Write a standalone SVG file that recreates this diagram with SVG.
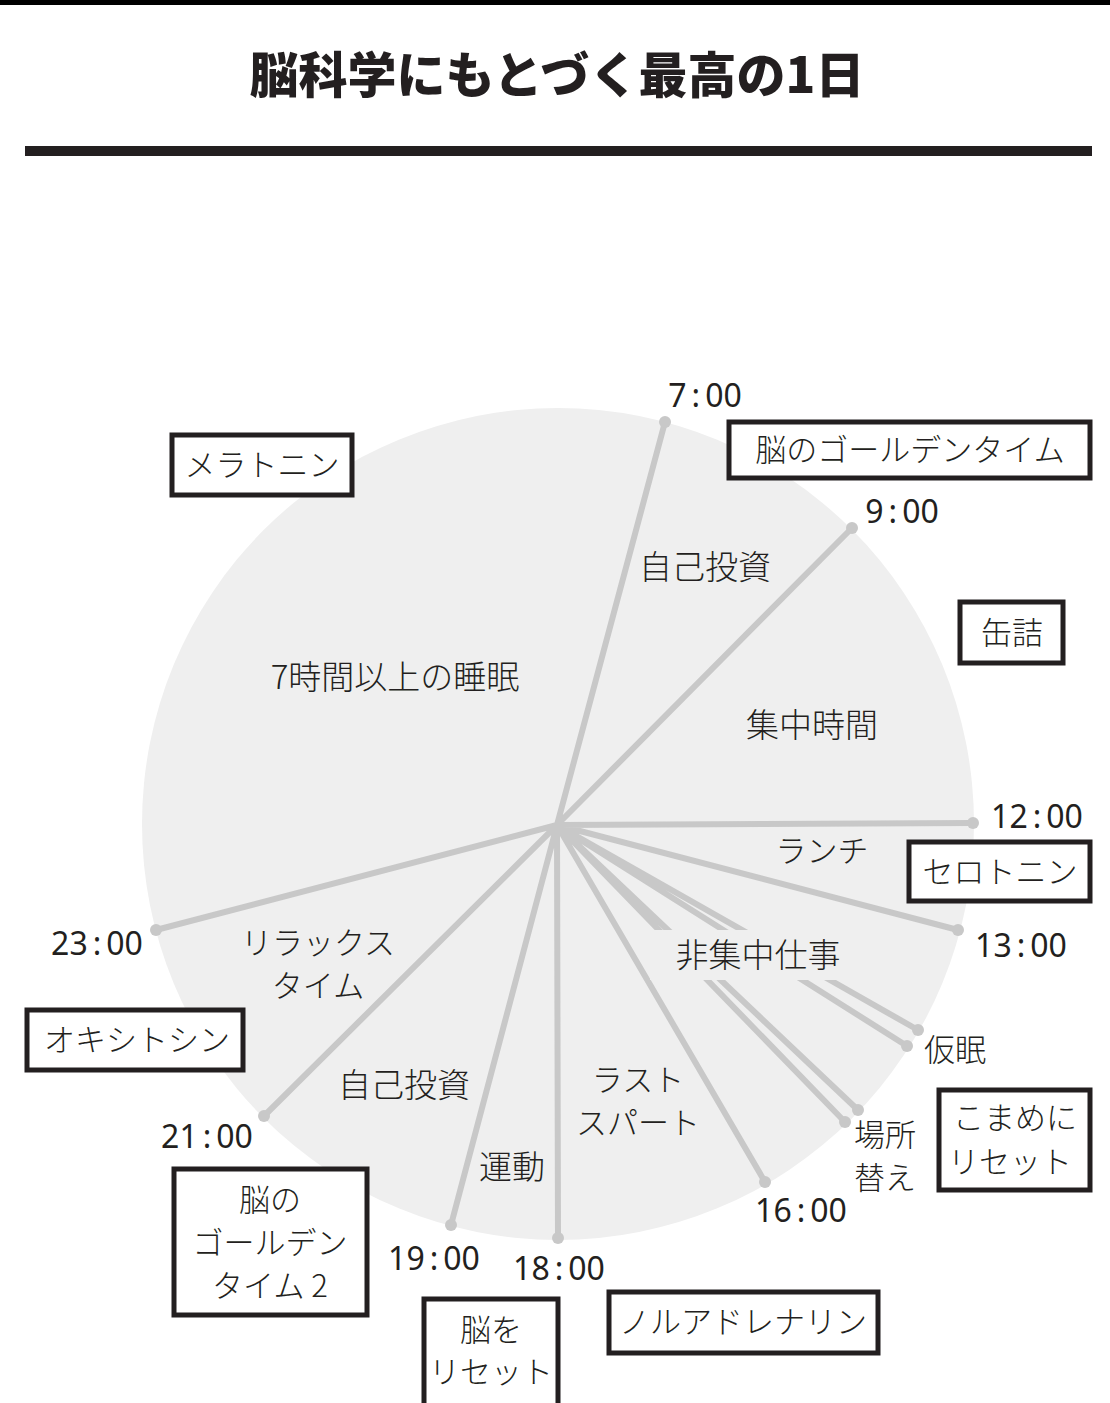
<svg xmlns="http://www.w3.org/2000/svg" width="1110" height="1403" viewBox="0 0 1110 1403">
<style>
.t{font-family:"Noto Sans CJK JP","Noto Sans",sans-serif;fill:#231f20;text-anchor:middle}
.lb{font-size:31px;font-weight:300}
.sg{font-size:33px;font-weight:300}
.tm{font-size:32px;font-family:"Noto Sans","Noto Sans CJK JP",sans-serif}
.bx{fill:#fff;stroke:#231f20;stroke-width:5}
.ln{stroke:#c8c8c8;stroke-width:6;stroke-linecap:round;fill:none}
.dt{fill:#c8c8c8}
</style>
<rect x="0" y="0" width="1110" height="1403" fill="#fff"/>
<rect x="0" y="0" width="1110" height="5" fill="#000"/>
<text class="t" x="557" y="93" font-size="49" font-weight="900">脳科学にもとづく最高の1日</text>
<rect x="25" y="146" width="1067" height="10" fill="#231f20"/>
<circle id="clock" cx="558" cy="824" r="416" fill="#efefef"/>
<g id="connectors">
<path class="ln" d="M557 825L665 422M557 825L852 528M557 825L973 823M557 825L958 930M557 825L918 1030M557 825L907 1046M557 825L858 1110M557 825L845 1122M557 825L765 1182M557 825L558 1238M557 825L451 1225M557 825L264 1116M557 825L156 930"/>
<g class="dt">
<circle cx="665" cy="422" r="6"/><circle cx="852" cy="528" r="6"/><circle cx="973" cy="823" r="6"/><circle cx="958" cy="930" r="6"/><circle cx="918" cy="1030" r="6"/><circle cx="907" cy="1046" r="6"/><circle cx="858" cy="1110" r="6"/><circle cx="845" cy="1122" r="6"/><circle cx="765" cy="1182" r="6"/><circle cx="558" cy="1238" r="6"/><circle cx="451" cy="1225" r="6"/><circle cx="264" cy="1116" r="6"/><circle cx="156" cy="930" r="6"/>
</g>
</g>
<g id="times">
<text class="t tm" x="705" y="407">7<tspan dx="5">:</tspan><tspan dx="5">00</tspan></text>
<text class="t tm" x="902" y="523">9<tspan dx="5">:</tspan><tspan dx="5">00</tspan></text>
<text class="t tm" x="1037" y="828">12<tspan dx="5">:</tspan><tspan dx="5">00</tspan></text>
<text class="t tm" x="1021" y="957">13<tspan dx="5">:</tspan><tspan dx="5">00</tspan></text>
<text class="t tm" x="97" y="955">23<tspan dx="5">:</tspan><tspan dx="5">00</tspan></text>
<text class="t tm" x="207" y="1148">21<tspan dx="5">:</tspan><tspan dx="5">00</tspan></text>
<text class="t tm" x="434" y="1270">19<tspan dx="5">:</tspan><tspan dx="5">00</tspan></text>
<text class="t tm" x="559" y="1280">18<tspan dx="5">:</tspan><tspan dx="5">00</tspan></text>
<text class="t tm" x="801" y="1222">16<tspan dx="5">:</tspan><tspan dx="5">00</tspan></text>
</g>
<g id="segments">
<text class="t sg" x="705" y="579">自己投資</text>
<text class="t sg" x="395" y="689">7時間以上の睡眠</text>
<text class="t sg" x="812" y="737">集中時間</text>
<text class="t lb" x="822" y="862" font-size="29">ランチ</text>
<rect x="650" y="930" width="198" height="50" fill="#efefef"/>
<text class="t sg" x="758" y="967">非集中仕事</text>
<text class="t lb" font-size="29"><tspan x="318" y="954">リラックス</tspan><tspan x="318" y="997">タイム</tspan></text>
<text class="t sg" x="404" y="1097">自己投資</text>
<text class="t lb" font-size="29"><tspan x="638" y="1091">ラスト</tspan><tspan x="638" y="1134">スパート</tspan></text>
<text class="t sg" x="512" y="1179" font-size="31">運動</text>
<text class="t lb" x="955" y="1061">仮眠</text>
<text class="t lb" font-size="30"><tspan x="885" y="1146">場所</tspan><tspan x="885" y="1189">替え</tspan></text>
</g>
<g id="melatonin"><rect class="bx" x="172" y="435" width="180" height="60"/><text class="t lb" x="262" y="476">メラトニン</text></g>
<g id="golden"><rect class="bx" x="729" y="422" width="361" height="56"/><text class="t lb" x="910" y="461" font-size="33">脳のゴールデンタイム</text></g>
<g id="kanzume"><rect class="bx" x="960" y="602" width="103" height="61"/><text class="t lb" x="1012" y="644">缶詰</text></g>
<g id="serotonin"><rect class="bx" x="909" y="842" width="181" height="59"/><text class="t lb" x="1000" y="883">セロトニン</text></g>
<g id="oxytocin"><rect class="bx" x="27" y="1010" width="216" height="60"/><text class="t lb" x="137" y="1051">オキシトシン</text></g>
<g id="golden2"><rect class="bx" x="174" y="1169" width="193" height="146"/><text class="t lb"><tspan x="270" y="1211">脳の</tspan><tspan x="270" y="1254">ゴールデン</tspan><tspan x="270" y="1297">タイム 2</tspan></text></g>
<g id="reset"><rect class="bx" x="424" y="1299" width="134" height="110"/><text class="t lb"><tspan x="491" y="1341">脳を</tspan><tspan x="491" y="1383">リセット</tspan></text></g>
<g id="noradrenaline"><rect class="bx" x="609" y="1292" width="269" height="61"/><text class="t lb" x="743" y="1333">ノルアドレナリン</text></g>
<g id="komame"><rect class="bx" x="939" y="1090" width="151" height="100"/><text class="t lb"><tspan x="1015" y="1129">こまめに</tspan><tspan x="1010" y="1173">リセット</tspan></text></g>
</svg>
